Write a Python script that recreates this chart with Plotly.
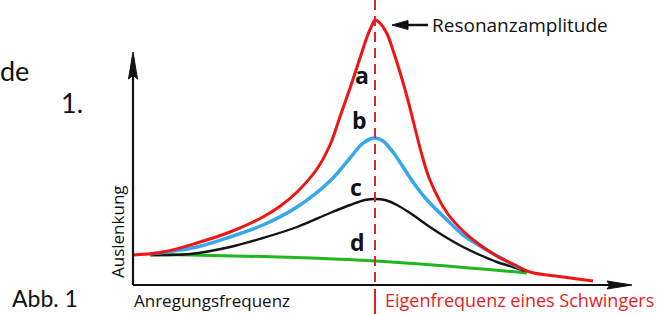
import plotly.graph_objects as go

# ---- data (frequency in % of natural frequency, amplitude in arbitrary units) ----
red_f = [0, 12.4, 26.4, 40.1, 53.7, 60.9, 67.8, 76.0, 81.4, 85.5, 89.7, 93.8, 96.7, 98.8, 100, 102.0, 105.0, 107.4,
         110.3, 113.6, 116.5, 119.4, 122.7, 129.8, 136.4, 143.4, 150.4, 157.0, 164.0, 177.7, 190.1]
red_a = [3.0, 3.3, 4.2, 5.3, 6.8, 7.9, 9.3, 11.6, 14.0, 16.8, 19.7, 22.7, 24.8, 26.0, 26.5, 26.2, 25.1, 23.5,
         21.3, 18.5, 15.7, 13.0, 10.5, 7.2, 5.4, 4.0, 2.9, 2.1, 1.3, 0.8, 0.4]

blue_f = [7.0, 26.4, 40.1, 53.7, 67.8, 81.4, 89.7, 94.6, 97.9, 100, 103.3, 107.4, 111.6, 115.7, 121.5,
          129.8, 136.4, 143.4, 150.4, 155.8, 160.7]
blue_a = [3.1, 3.8, 4.8, 6.0, 7.8, 10.4, 12.7, 14.1, 14.6, 14.7, 14.4, 13.3, 11.8, 10.3, 8.5,
          6.5, 5.0, 3.9, 2.9, 2.2, 1.6]

black_f = [7.0, 23.6, 40.1, 53.7, 67.8, 81.4, 89.7, 95.9, 100, 104.1, 109.1, 115.7, 122.7, 129.8,
           136.4, 143.4, 150.4, 157.0, 162.0]
black_a = [3.0, 3.1, 3.8, 4.7, 5.8, 7.2, 8.0, 8.5, 8.6, 8.5, 8.0, 7.0, 5.8, 4.7,
           3.8, 3.0, 2.3, 1.8, 1.4]

green_f = [7.0, 23.6, 100, 162.8]
green_a = [3.0, 3.0, 2.4, 1.2]

resonance_f = 100
curve_labels = ["a", "b", "c", "d"]

RED = "#f01414"
BLUE = "#35a8ea"
BLACK = "#141414"
GREEN = "#1db81d"

# pixel helpers for layout (axis range chosen so the plot fills the page)
W, H = 663, 314
X0PX, Y0PX = 133, 285
SX, SY = 2.42, 10.0
def fx(px): return (px - X0PX) / SX
def fy(py): return (Y0PX - py) / SY

fig = go.Figure()
fig.add_trace(go.Scatter(x=green_f, y=green_a, mode="lines", line=dict(color=GREEN, width=3, shape="spline")))
fig.add_trace(go.Scatter(x=black_f, y=black_a, mode="lines", line=dict(color=BLACK, width=2.4, shape="spline")))
fig.add_trace(go.Scatter(x=blue_f, y=blue_a, mode="lines", line=dict(color=BLUE, width=3.5, shape="spline")))
fig.add_trace(go.Scatter(x=red_f, y=red_a, mode="lines", line=dict(color=RED, width=3, shape="spline")))

shapes = []
# resonance dashed line
shapes.append(dict(type="line", x0=resonance_f, x1=resonance_f, y0=fy(0), y1=0, line=dict(color="#d42a2a", width=2, dash="10px,6px")))
shapes.append(dict(type="line", x0=resonance_f, x1=resonance_f, y0=fy(289), y1=fy(314), line=dict(color="#e02020", width=2)))
# axes
xtip = fx(632)
ytip = fy(52)
shapes.append(dict(type="line", x0=0, x1=xtip - 5 / SX, y0=0, y1=0, line=dict(color="#111", width=2.2)))
shapes.append(dict(type="line", x0=0, x1=0, y0=0, y1=ytip - 5 / SY, line=dict(color="#111", width=2.2)))
# arrowheads
shapes.append(dict(type="path", path=f"M {xtip},0 L {fx(607)},{fy(281)} L {fx(610)},0 L {fx(607)},{fy(289)} Z",
                   fillcolor="#111", line=dict(color="#111", width=1)))
shapes.append(dict(type="path", path=f"M 0,{ytip} L {fx(128.5)},{fy(79)} L 0,{fy(75)} L {fx(137.5)},{fy(79)} Z",
                   fillcolor="#111", line=dict(color="#111", width=1)))
# arrow towards the resonance peak
shapes.append(dict(type="line", x0=fx(400), x1=fx(428), y0=fy(25), y1=fy(25), line=dict(color="#111", width=2.5)))
shapes.append(dict(type="path", path=f"M {fx(392)},{fy(25)} L {fx(408)},{fy(20.5)} L {fx(408)},{fy(29.5)} Z",
                   fillcolor="#111", line=dict(color="#111", width=1)))

HAND = "Open Sans"
ann = []
ann.append(dict(x=fx(430), y=fy(25), text="Resonanzamplitude", xanchor="left", yanchor="middle", showarrow=False,
                font=dict(family=HAND, size=19, color="#111")))
lab_pos = [(362, 75), (359, 120), (356, 187), (357, 242)]
for t, (px, py) in zip(curve_labels, lab_pos):
    ann.append(dict(x=fx(px), y=fy(py), text=f"<b>{t}</b>", showarrow=False, xanchor="center", yanchor="middle",
                    font=dict(family=HAND, size=23, color="#111")))
ann.append(dict(x=fx(117), y=fy(232), text="Auslenkung", textangle=-90, showarrow=False, xanchor="center", yanchor="middle",
                font=dict(family=HAND, size=17, color="#111")))
ann.append(dict(x=fx(132), y=fy(300), text="Anregungsfrequenz", showarrow=False, xanchor="left", yanchor="middle",
                font=dict(family=HAND, size=17, color="#111")))
ann.append(dict(x=fx(383), y=fy(300), text="Eigenfrequenz eines Schwingers", showarrow=False, xanchor="left", yanchor="middle",
                font=dict(family=HAND, size=18, color="#e41e1e")))
ann.append(dict(x=fx(10), y=fy(298), text="Abb. 1", showarrow=False, xanchor="left", yanchor="middle",
                font=dict(family="Lato", size=23, color="#111")))
ann.append(dict(x=fx(31), y=fy(70), text="de", showarrow=False, xanchor="right", yanchor="middle",
                font=dict(family="Lato", size=27, color="#111")))
ann.append(dict(x=fx(85), y=fy(102), text="1.", showarrow=False, xanchor="right", yanchor="middle",
                font=dict(family="Lato", size=27, color="#111")))

fig.update_layout(
    width=W, height=H, margin=dict(l=0, r=0, t=0, b=0),
    paper_bgcolor="white", plot_bgcolor="white", showlegend=False,
    xaxis=dict(range=[fx(0), fx(W)], visible=False, fixedrange=True),
    yaxis=dict(range=[fy(H), fy(0)], visible=False, fixedrange=True),
    shapes=shapes, annotations=ann,
)
fig.write_html("out.html", config={"displayModeBar": False},
               post_script="document.body.style.margin='0';document.body.style.overflow='hidden';")
